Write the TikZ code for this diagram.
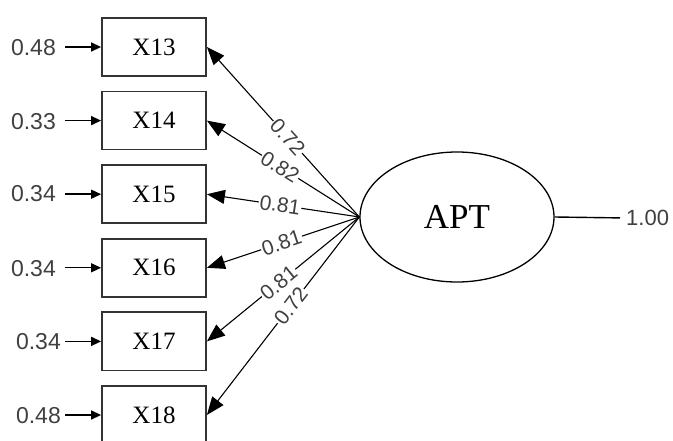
\documentclass[tikz,border=0pt]{standalone}
\usepackage{fontspec}
\setmainfont{Liberation Serif}
\newfontfamily\numfont{Liberation Sans}
\usetikzlibrary{arrows.meta,shapes.geometric}
\begin{document}
\begin{tikzpicture}[x=1pt,y=-1pt,
  obs/.style={draw,line width=1.8pt,draw=black!80,rectangle,minimum width=104pt,minimum height=58pt,inner sep=0pt,font=\fontsize{25}{29}\selectfont},
  lat/.style={draw,line width=1.3pt,ellipse,minimum width=194pt,minimum height=130pt,inner sep=0pt,font=\fontsize{35}{40}\selectfont},
  errlbl/.style={anchor=east,inner sep=0pt,text=black!75,font=\numfont\fontsize{23}{27}\selectfont},
  errarrow/.style={line width=1.4pt,-{Triangle[length=10pt,width=9pt]}},
  loadarrow/.style={line width=1.1pt,-{Triangle[length=18pt,width=14pt]}},
  lbl/.style={sloped,fill=white,inner sep=1pt,text=black!75,font=\numfont\fontsize{21}{24}\selectfont}
]
\useasboundingbox (0,0) rectangle (673,441);
\node[obs] (b1) at (154,47) {X13};
\node[obs] (b2) at (154,120.6) {X14};
\node[obs] (b3) at (154,194.2) {X15};
\node[obs] (b4) at (154,267.8) {X16};
\node[obs] (b5) at (154,341.4) {X17};
\node[obs] (b6) at (154,415) {X18};
\node[lat] (apt) at (457,217) {APT};

\node[errlbl] (e1) at (56,48) {0.48};
\node[errlbl] (e2) at (56,122) {0.33};
\node[errlbl] (e3) at (56,194) {0.34};
\node[errlbl] (e4) at (56,269) {0.34};
\node[errlbl] (e5) at (61,342) {0.34};
\node[errlbl] (e6) at (61,416) {0.48};
\coordinate (s1) at (65,47);
\coordinate (s2) at (65,120.6);
\coordinate (s3) at (65,194.2);
\coordinate (s4) at (65,267.8);
\coordinate (s5) at (65,341.4);
\coordinate (s6) at (65,415);
\foreach \i in {1,...,6}{\draw[errarrow] (s\i) -- (b\i.west);}

\draw[loadarrow] (apt.west) -- (b1.east) node[lbl,pos=0.47] {0.72};
\draw[loadarrow] (apt.west) -- (b2.east) node[lbl,pos=0.52] {0.82};
\draw[loadarrow] (apt.west) -- (b3.east) node[lbl,pos=0.52] {0.81};
\draw[loadarrow] (apt.west) -- (b4.east) node[lbl,pos=0.51] {0.81};
\draw[loadarrow] (apt.west) -- (b5.east) node[lbl,pos=0.53] {0.81};
\draw[loadarrow] (apt.west) -- (b6.east) node[lbl,pos=0.45] {0.72};

\node[anchor=west,inner sep=0pt,text=black!75,font=\numfont\fontsize{22}{25}\selectfont] (one) at (626,218) {1.00};
\draw[line width=1.4pt,shorten >=6pt] (apt.east) -- (one.west);
\end{tikzpicture}
\end{document}
